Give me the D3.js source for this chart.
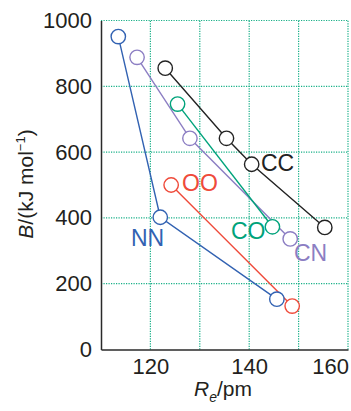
<!DOCTYPE html>
<html><head><meta charset="utf-8">
<script src="https://cdn.jsdelivr.net/npm/d3@7"></script>
<style>body{margin:0;background:#fff}svg{display:block}</style>
</head><body>
<svg id="c" width="351" height="411"></svg>
<script>
const xTicks = [110, 120, 130, 140, 150, 160];
const xTickLabels = ["", "120", "", "140", "", "160"];
const yTicks = [0, 200, 400, 600, 800, 1000];
const seriesNames = ["NN", "OO", "CC", "CN", "CO"];
const seriesColors = ["#3262b2", "#ef4a3a", "#222222", "#8c7ec3", "#00a37b"];
const nnRe = [113.5, 122.0, 145.6];
const nnB  = [951, 402, 153];
const ooRe = [124.2, 148.7];
const ooB  = [500, 132];
const ccRe = [123.0, 135.4, 140.5, 155.3];
const ccB  = [855, 642, 563, 371];
const cnRe = [117.3, 128.0, 148.3];
const cnB  = [888, 642, 336];
const coRe = [125.5, 144.7];
const coB  = [746, 373];
const labelPos = [[131, 246], [182, 191], [261, 171], [294, 261], [231, 239]];

const series = [
  {re: nnRe, b: nnB}, {re: ooRe, b: ooB}, {re: ccRe, b: ccB},
  {re: cnRe, b: cnB}, {re: coRe, b: coB}
].map((s, i) => ({name: seriesNames[i], color: seriesColors[i],
  pts: s.re.map((r, j) => [r, s.b[j]]), lab: labelPos[i]}));

const svg = d3.select("#c");
const font = "'Liberation Sans', Arial, Helvetica, sans-serif";
const x = d3.scaleLinear().domain([110, 160]).range([101, 348]);
const y = d3.scaleLinear().domain([0, 1000]).range([349.5, 20.5]);
const grid = "#17b087";

// gridlines
svg.append("g").selectAll("line").data(xTicks.slice(1)).join("line")
  .attr("x1", d => x(d)).attr("x2", d => x(d)).attr("y1", y(0)).attr("y2", y(1000))
  .attr("stroke", grid).attr("stroke-width", 1.2).attr("stroke-dasharray", "1.2,1.3");
svg.append("g").selectAll("line").data(yTicks.slice(1)).join("line")
  .attr("x1", x(110)).attr("x2", x(160)).attr("y1", d => y(d)).attr("y2", d => y(d))
  .attr("stroke", grid).attr("stroke-width", 1.2).attr("stroke-dasharray", "1.2,1.3");

// axes
const xAxis = d3.axisBottom(x).tickValues(xTicks).tickFormat((d, i) => xTickLabels[i]).tickSize(0).tickPadding(9);
const yAxis = d3.axisLeft(y).tickValues(yTicks).tickFormat(d3.format("d")).tickSize(0).tickPadding(9);
const gx = svg.append("g").attr("transform", `translate(0,${y(0)})`).call(xAxis);
const gy = svg.append("g").attr("transform", `translate(${x(110)},0)`).call(yAxis);
[gx, gy].forEach(g => {
  g.select(".domain").attr("stroke", "#2a2a2a").attr("stroke-width", 1.5);
  g.selectAll("text").attr("font-family", font).attr("font-size", 22).attr("fill", "#231f20");
});
gx.selectAll("text").attr("dy", "0.71em");
gx.selectAll(".tick").filter(d => d === 160).select("text").attr("text-anchor", "end").attr("x", 348 - x(160) + 0.5);

// axis titles
const xt = svg.append("text").attr("x", 223).attr("y", 396).attr("text-anchor", "middle")
  .attr("font-family", font).attr("font-size", 21).attr("fill", "#231f20");
xt.append("tspan").attr("font-style", "italic").text("R");
xt.append("tspan").attr("font-style", "italic").attr("font-size", 14).attr("dy", 6).text("e");
xt.append("tspan").attr("dy", -6).text("/pm");

const yt = svg.append("text").attr("transform", "translate(33,184) rotate(-90)").attr("text-anchor", "middle")
  .attr("font-family", font).attr("font-size", 21).attr("fill", "#231f20");
yt.append("tspan").attr("font-style", "italic").text("B");
yt.append("tspan").text("/(kJ mol");
yt.append("tspan").attr("font-size", 13).attr("dy", -8).text("−1");
yt.append("tspan").attr("dy", 8).text(")");

// lines
const line = d3.line().x(d => x(d[0])).y(d => y(d[1]));
svg.append("g").selectAll("path").data(series).join("path")
  .attr("d", d => line(d.pts)).attr("fill", "none").attr("stroke", d => d.color).attr("stroke-width", 1.4);

// markers
series.forEach(s => {
  svg.append("g").selectAll("circle").data(s.pts).join("circle")
    .attr("cx", d => x(d[0])).attr("cy", d => y(d[1])).attr("r", 7.2)
    .attr("fill", "#fff").attr("stroke", s.color).attr("stroke-width", 1.4);
});

// labels
svg.append("g").selectAll("text").data(series).join("text")
  .attr("x", d => d.lab[0]).attr("y", d => d.lab[1])
  .attr("font-family", font).attr("font-size", 23).attr("fill", d => d.color).text(d => d.name);
</script>
</body></html>
